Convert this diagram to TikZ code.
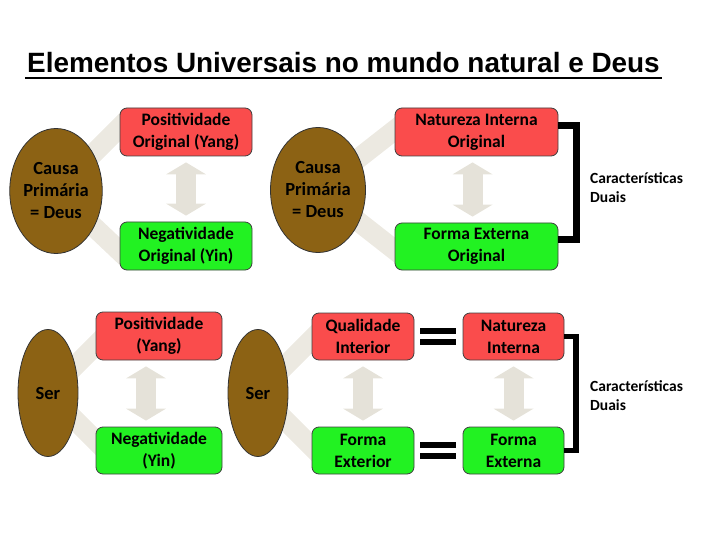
\documentclass[tikz,border=0pt]{standalone}
\usepackage{fontspec}
\setmainfont{Carlito}
\newfontfamily\titlefont{Liberation Sans}
\usetikzlibrary{arrows.meta,positioning,calc,shapes.geometric,backgrounds}

\definecolor{causebrown}{RGB}{140,98,20}
\definecolor{yangred}{RGB}{250,76,76}
\definecolor{yingreen}{RGB}{34,242,34}
\definecolor{bandgray}{RGB}{236,233,225}
\definecolor{arrowgray}{RGB}{229,226,217}

\tikzset{
  cause/.style={ellipse, draw=black!80, line width=0.8pt, fill=causebrown,
    inner sep=0pt, align=center, font=\bfseries\fontsize{18.5}{22}\selectfont},
  yangbox/.style={rectangle, rounded corners=7pt, draw=black!75, line width=0.8pt,
    fill=yangred, inner sep=0pt, align=center, font=\bfseries\fontsize{17.5}{22}\selectfont},
  yinbox/.style={yangbox, fill=yingreen},
  band/.style={line width=20pt, draw=bandgray},
  duoarrow/.style={line width=20pt, draw=arrowgray,
    {Triangle[width=40pt,length=12pt,line width=0pt]}-{Triangle[width=40pt,length=12pt,line width=0pt]},
    shorten <=6pt, shorten >=6pt},
  eqbar/.style={line width=6pt, shorten <=6pt, shorten >=7pt},
  dualbrace/.style={line width=7pt, line join=miter},
  duallabel/.style={anchor=west, align=left, inner sep=0pt, font=\bfseries\fontsize{15.5}{19}\selectfont}
}

\begin{document}
\begin{tikzpicture}[x=1pt,y=-1pt]
    \useasboundingbox (0,0) rectangle (720,540);

    % title
    \node[anchor=base west, inner sep=0pt, font=\titlefont\bfseries\fontsize{27.9}{32}\selectfont] (title) at (27,73)
        {Elementos Universais no mundo natural e Deus};
    \draw[line width=2.5pt] ([xshift=-2pt,yshift=-5pt]title.base west) -- ([xshift=2pt,yshift=-5pt]title.base east);

    % upper quartet
    \node[cause, minimum width=79pt, minimum height=125pt] (deus1) at (56,191) {Causa\\Primária\\= Deus};
    \node[yangbox, minimum width=132pt, minimum height=48pt] (yang0) at (186,132) {Positividade\\Original (Yang)};
    \node[yinbox, minimum width=132pt, minimum height=48pt] (yin0) at (186,246) {Negatividade\\Original (Yin)};
    \node[cause, minimum width=95pt, minimum height=125pt] (deus2) at (318,190) {Causa\\Primária\\= Deus};
    \node[yangbox, minimum width=163pt, minimum height=48pt] (nio) at (476.5,132) {Natureza Interna\\Original};
    \node[yinbox, minimum width=163pt, minimum height=47pt] (feo) at (476.5,246.5) {Forma Externa\\Original};
    \node[duallabel] (dual0) at (590,187.5) {Características\\Duais};

    % lower quartet
    \node[cause, minimum width=60pt, minimum height=127pt] (ser1) at (48,393) {Ser};
    \node[yangbox, minimum width=126pt, minimum height=48pt] (yang1) at (159,336) {Positividade\\(Yang)};
    \node[yinbox, minimum width=126pt, minimum height=47pt] (yin1) at (159,450.5) {Negatividade\\(Yin)};
    \node[cause, minimum width=60pt, minimum height=127pt] (ser2) at (258,393) {Ser};
    \node[yangbox, minimum width=102pt, minimum height=47pt] (qi) at (363,336.5) {Qualidade\\Interior};
    \node[yinbox, minimum width=102pt, minimum height=47pt] (fext) at (363,450.5) {Forma\\Exterior};
    \node[yangbox, minimum width=101pt, minimum height=47pt] (ni) at (513.5,336.5) {Natureza\\Interna};
    \node[yinbox, minimum width=101pt, minimum height=47pt] (fe) at (513.5,450.5) {Forma\\Externa};
    \node[duallabel] (dual1) at (590,395.5) {Características\\Duais};

    % pale bands behind
    \begin{scope}[on background layer]
        \draw[band] (deus1.center) -- ++(74,-74);
        \draw[band] (deus1.center) -- ++(74,70);
        \draw[band] (deus2.center) -- ++(92,-72);
        \draw[band] (deus2.center) -- ++(92,72);
        \draw[band] (ser1.center) -- ++(60,-60);
        \draw[band] (ser1.center) -- ++(60,60);
        \draw[band] (ser2.center) -- ++(66,-66);
        \draw[band] (ser2.center) -- ++(66,66);
    \end{scope}

    % double arrows
    \draw[duoarrow] (yang0) -- (yin0);
    \draw[duoarrow] ([xshift=-4pt]nio.south) -- ([xshift=-4pt]feo.north);
    \draw[duoarrow] ([xshift=-13pt]yang1.south) -- ([xshift=-13pt]yin1.north);
    \draw[duoarrow] (qi) -- (fext);
    \draw[duoarrow] (ni) -- (fe);

    % equal signs
    \draw[eqbar] ([yshift=5.5pt]qi.east) -- ([yshift=5.5pt]ni.west);
    \draw[eqbar] ([yshift=-5.5pt]qi.east) -- ([yshift=-5.5pt]ni.west);
    \draw[eqbar] ([yshift=5.5pt]fext.east) -- ([yshift=5.5pt]fe.west);
    \draw[eqbar] ([yshift=-5.5pt]fext.east) -- ([yshift=-5.5pt]fe.west);

    % brackets
    \draw[dualbrace] ([yshift=-18pt]nio.north east) -- ++(18,0) |- ([yshift=-17pt]feo.north east);
    \draw[dualbrace, line width=5.5pt] (ni.east) -- ++(11.5,0) |- (fe.east);
\end{tikzpicture}
\end{document}
